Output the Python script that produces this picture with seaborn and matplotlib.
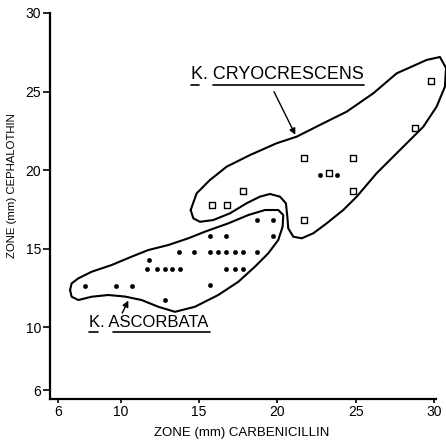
#!/usr/bin/env python3

import pandas as pd
import matplotlib
matplotlib.use("Agg")
import matplotlib.pyplot as plt
import seaborn as sns

# filled dots (zone diameters, mm)
dot_carb = [7.7, 9.7, 10.7, 12.8, 11.8, 11.7, 12.3, 12.8, 13.3, 13.8,
            13.7, 14.7, 15.7, 16.2, 16.7, 17.3, 17.8, 18.7,
            15.7, 16.7, 19.7, 18.7, 19.7, 16.7, 17.3, 17.8, 15.7,
            22.7, 23.8]
dot_ceph = [12.6, 12.6, 12.6, 11.7, 14.3, 13.7, 13.7, 13.7, 13.7, 13.7,
            14.8, 14.8, 14.8, 14.8, 14.8, 14.8, 14.8, 14.8,
            15.8, 15.8, 15.8, 16.8, 16.8, 13.7, 13.7, 13.7, 12.7,
            19.7, 19.7]

# open squares
sq_carb = [15.8, 16.8, 17.8, 21.7, 21.7, 23.3, 24.8, 24.8, 28.8, 29.8]
sq_ceph = [17.8, 17.8, 18.7, 20.8, 16.8, 19.8, 20.8, 18.7, 22.7, 25.7]

# hand-drawn group outlines
asc_outline_x = [6.77, 6.87, 7.30, 8.15, 9.43, 10.70, 11.76, 13.04, 14.32, 15.38,
                 16.87, 18.15, 19.21, 20.06, 20.38, 20.34, 20.06, 19.42, 18.57,
                 17.51, 16.23, 14.74, 13.47, 12.40, 11.34, 10.28, 9.21, 8.15,
                 7.30, 6.87, 6.77]
asc_outline_y = [12.37, 12.79, 13.11, 13.53, 13.96, 14.49, 14.91, 15.23, 15.66, 16.08,
                 16.61, 17.14, 17.46, 17.46, 17.14, 16.40, 15.55, 14.70, 13.85,
                 12.89, 12.05, 11.30, 10.98, 11.30, 11.73, 11.95, 12.05, 11.94,
                 11.73, 11.94, 12.37]
cryo_outline_x = [14.47, 14.64, 15.06, 15.91, 16.98, 18.04, 18.89, 19.53, 20.17, 20.55,
                  20.64, 20.70, 21.02, 21.56, 22.30, 23.15, 24.21, 25.07, 26.34, 27.83,
                  29.32, 30.17, 30.70, 30.77, 30.38, 29.53, 27.62, 26.13, 24.43, 22.93,
                  21.24, 19.96, 18.26, 16.77, 15.70, 14.85, 14.47]
cryo_outline_y = [17.46, 16.93, 16.71, 16.82, 17.25, 17.89, 18.31, 18.48, 18.31, 17.89,
                  17.03, 16.29, 15.76, 15.66, 15.98, 16.61, 17.46, 18.31, 19.80, 21.28,
                  22.76, 24.04, 25.31, 26.50, 27.20, 27.01, 26.16, 24.89, 23.72, 22.98,
                  22.13, 21.71, 20.96, 20.22, 19.37, 18.52, 17.46]

x_ticks = [6, 10, 15, 20, 25, 30]
y_ticks = [6, 10, 15, 20, 25, 30]

FONT = ["Liberation Sans", "DejaVu Sans"]


def main():
    sns.set_style("ticks")
    plt.rcParams["font.family"] = FONT
    for key in ["text.color", "axes.labelcolor", "xtick.color", "ytick.color",
                "axes.edgecolor"]:
        plt.rcParams[key] = "black"

    fig = plt.figure(figsize=(4.46, 4.41), dpi=100)
    ax = fig.add_axes([50 / 446, 42 / 441, 386 / 446, 386 / 441])

    dots = pd.DataFrame({"carb": dot_carb, "ceph": dot_ceph})
    squares = pd.DataFrame({"carb": sq_carb, "ceph": sq_ceph})

    sns.scatterplot(data=dots, x="carb", y="ceph", ax=ax, color="black",
                    s=10, marker="o", edgecolor="black", linewidth=0.3, zorder=3)
    sns.scatterplot(data=squares, x="carb", y="ceph", ax=ax, s=22, marker="s",
                    facecolor="white", edgecolor="black", linewidth=1.0, zorder=3)

    ax.plot(asc_outline_x, asc_outline_y, color="black", lw=1.5,
            solid_joinstyle="round", clip_on=False)
    ax.plot(cryo_outline_x, cryo_outline_y, color="black", lw=1.5,
            solid_joinstyle="round", clip_on=False)

    # group labels, underlined, with arrows
    ax.text(14.47, 25.80, "K. CRYOCRESCENS", fontsize=12.9, va="baseline", ha="left")
    ax.plot([14.47, 14.98], [25.42, 25.42], color="black", lw=1.2)
    ax.plot([15.87, 25.53], [25.42, 25.42], color="black", lw=1.2)
    ax.annotate("", xy=(21.15, 22.25), xytext=(19.79, 24.99),
                arrowprops=dict(arrowstyle="-|>", color="black", lw=1.0,
                                mutation_scale=9, shrinkA=0, shrinkB=0))

    ax.text(8.0, 10.03, "K. ASCORBATA", fontsize=12, va="baseline", ha="left")
    ax.plot([8.0, 8.55], [9.71, 9.71], color="black", lw=1.2)
    ax.plot([9.49, 15.70], [9.71, 9.71], color="black", lw=1.2)
    ax.annotate("", xy=(10.49, 11.70), xytext=(10.10, 10.90),
                arrowprops=dict(arrowstyle="-|>", color="black", lw=1.0,
                                mutation_scale=9, shrinkA=0, shrinkB=0))

    ax.set_xlim(5.49, 30.13)
    ax.set_ylim(5.43, 30.0)
    ax.set_xticks(x_ticks)
    ax.set_yticks(y_ticks)
    ax.tick_params(axis="x", length=3, width=1.2, pad=1, labelsize=10)
    ax.tick_params(axis="y", length=5, width=1.2, pad=1.5, labelsize=10)

    sns.despine(ax=ax)
    for side in ["left", "bottom"]:
        ax.spines[side].set_linewidth(1.6)

    ax.set_xlabel("ZONE (mm) CARBENICILLIN", fontsize=9.5)
    ax.set_ylabel("ZONE (mm) CEPHALOTHIN", fontsize=8.2)
    ax.xaxis.set_label_coords(0.497, -0.072)
    ax.yaxis.set_label_coords(-0.085, 0.554)

    fig.savefig("out.png", dpi=100)
    plt.close(fig)


if __name__ == "__main__":
    main()
